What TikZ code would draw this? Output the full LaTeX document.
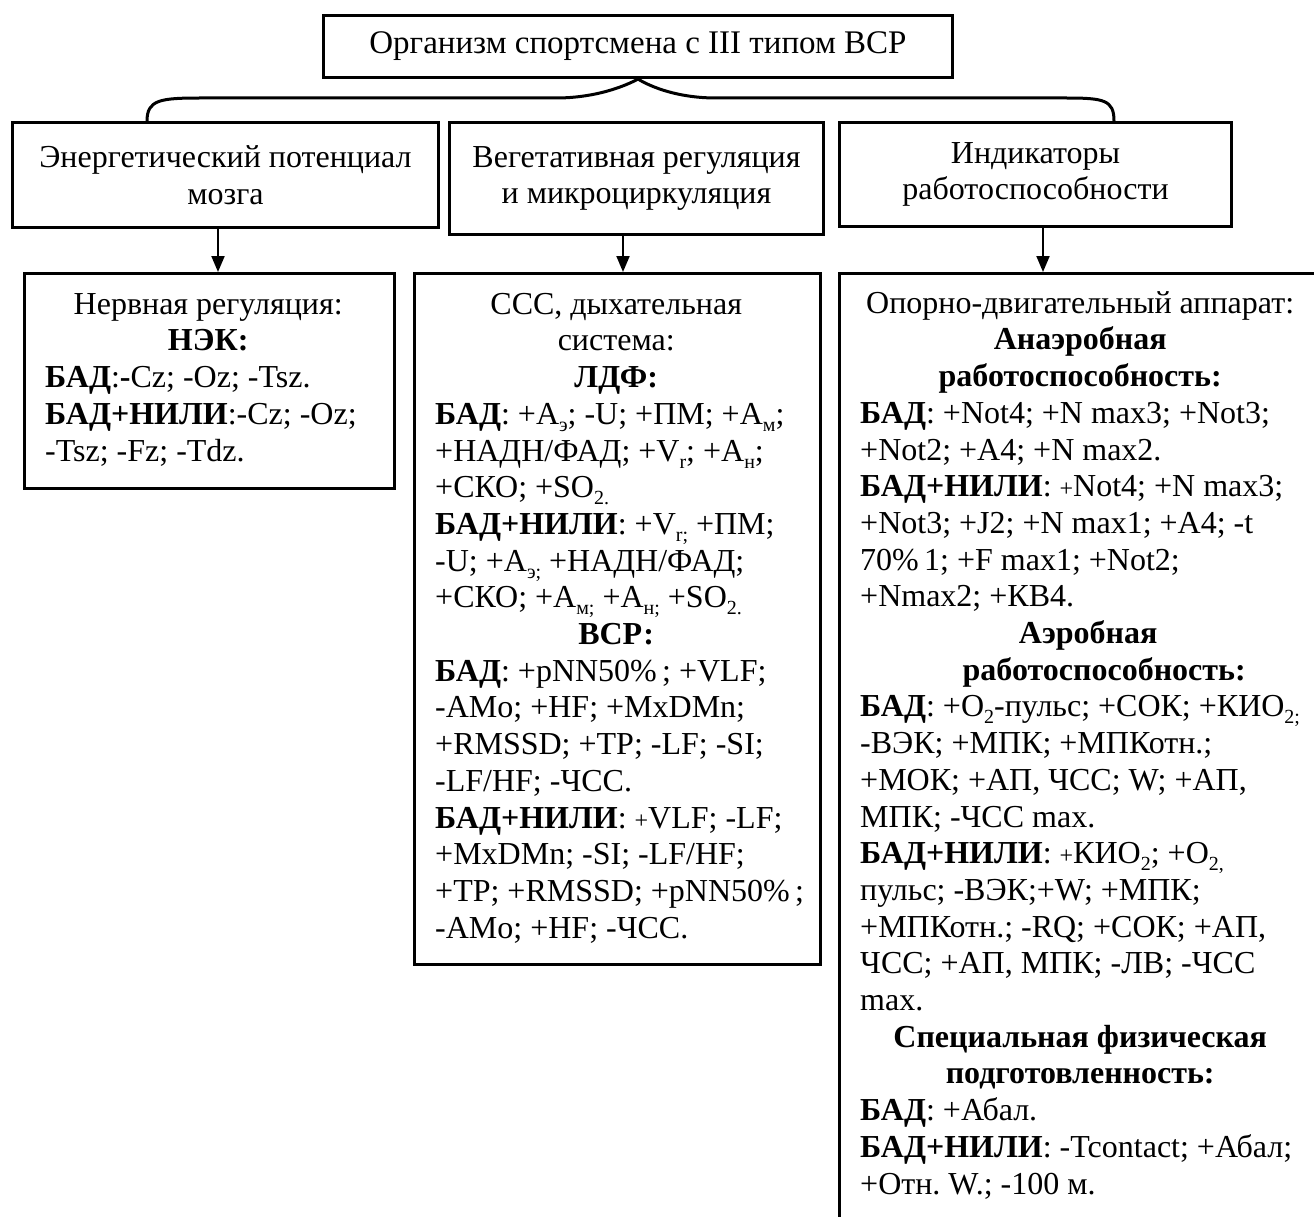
\documentclass[tikz,border=0pt]{standalone}
\usepackage{fontspec}
\setmainfont{Liberation Serif}
\usetikzlibrary{arrows.meta}

% small lowered index, small plus sign, centred line of given width
\newcommand\sbs[1]{\raisebox{-0.22em}{\fontsize{20}{20}\selectfont #1}}
\newcommand\splus{{\fontsize{24}{24}\selectfont +}}
\newcommand\ctr[2]{\makebox[#1][c]{#2}}
\newcommand\fl{\rule{0pt}{30pt}}
\frenchspacing

\begin{document}
\begin{tikzpicture}[x=1pt,y=-1pt,
  frame/.style={draw, line width=3pt, rectangle, anchor=north west, inner sep=0pt},
  head/.style={align=center, font=\fontsize{32}{36.7}\selectfont},
  txt/.style={anchor=north west, inner sep=0pt, align=left,
              font=\fontsize{32}{36.7}\selectfont},
  brace/.style={line width=3pt},
  arr/.style={line width=2pt, -{Triangle[length=16pt,width=13pt]}}]

\useasboundingbox (0,0) rectangle (1314,1217);
\clip (0,0) rectangle (1314,1217);

% top box
\node[frame, head, font=\fontsize{33}{36.7}\selectfont,
      minimum width=629pt, minimum height=62pt] (top) at (322,14)
  {Организм спортсмена с III типом ВСР};

% second row
\node[frame, head, minimum width=426pt, minimum height=105pt] (u1) at (11,121)
  {Энергетический потенциал\\мозга};
\node[frame, head, minimum width=374pt, minimum height=112pt] (u2) at (448,121)
  {Вегетативная регуляция\\и микроциркуляция};
\node[frame, head, minimum width=392pt, minimum height=104pt] (u3) at (838,121)
  {Индикаторы\\работоспособности};

% curly brace joining the top box with the second row
\coordinate (bL) at (147,121);
\coordinate (bR) at (1114,121);
\draw[brace] (u1.north -| bL) .. controls (147,100) and (160,98) .. (200,98)
  -- (556,98) .. controls (606,98) and (top.south) .. (top.south);
\draw[brace] (top.south) .. controls (top.south) and (666,98) .. (716,98)
  -- (1066,98) .. controls (1104,98) and (1114,100) .. (u3.north -| bR);

% third row frames
\node[frame, minimum width=370pt, minimum height=215pt] (l1) at (23,272) {};
\node[frame, minimum width=406pt, minimum height=691pt] (l2) at (413,272) {};
\node[frame, minimum width=500pt, minimum height=990pt] (l3) at (838,272) {};

% arrows
\coordinate (a1) at (218,0);
\coordinate (a2) at (623,0);
\coordinate (a3) at (1043,0);
\draw[arr] (u1.south -| a1) -- (l1.north -| a1);
\draw[arr] (u2.south -| a2) -- (l2.north -| a2);
\draw[arr] (u3.south -| a3) -- (l3.north -| a3);

% texts of the third row
\node[txt] (t1) at (45,284) {%
\fl\ctr{326pt}{Нервная регуляция:}\\
\ctr{326pt}{\textbf{НЭК:}}\\
\textbf{БАД}:\textbf{-}Cz; -Oz; -Tsz.\\
\textbf{БАД+НИЛИ}:-Cz; -Oz;\\
-Tsz; -Fz; -Tdz.};

\node[txt] (t2) at (435,284) {%
\fl\ctr{362pt}{ССС, дыхательная}\\
\ctr{362pt}{система:}\\
\ctr{362pt}{\textbf{ЛДФ:}}\\
\textbf{БАД}: +A\sbs{э}; -U; +ПМ; +A\sbs{м};\\
+НАДН/ФАД; +V\sbs{r}; +A\sbs{н};\\
+СКО; +SO\sbs{2.}\\
\textbf{БАД+НИЛИ}: +V\sbs{r;} +ПМ;\\
-U; +A\sbs{э;} +НАДН/ФАД;\\
+СКО; +A\sbs{м;} +A\sbs{н;} +SO\sbs{2.}\\
\ctr{362pt}{\textbf{ВСР:}}\\
\textbf{БАД}: +pNN50\%\,; +VLF;\\
-AMo; +HF; +MxDMn;\\
+RMSSD; +TP; -LF; -SI;\\
-LF/HF; -ЧСС.\\
\textbf{БАД+НИЛИ}: \splus VLF; -LF;\\
+MxDMn; -SI; -LF/HF;\\
+TP; +RMSSD; +pNN50\%\,;\\
-AMo; +HF; -ЧСС.};

\node[txt] (t3) at (860,283) {%
\fl\ctr{440pt}{Опорно-двигательный аппарат:}\\
\ctr{440pt}{\textbf{Анаэробная}}\\
\ctr{440pt}{\textbf{работоспособность:}}\\
\textbf{БАД}: +Not4; +N max3; +Not3;\\
+Not2; +A4; +N max2.\\
\textbf{БАД+НИЛИ}: \splus Not4; +N max3;\\
+Not3; +J2; +N max1; +A4; -t\\
70\%\,1; +F max1; +Not2;\\
+Nmax2; +КВ4.\\
\ctr{440pt}{\hspace*{16pt}\textbf{Аэробная}}\\
\ctr{440pt}{\hspace*{48pt}\textbf{работоспособность:}}\\
\textbf{БАД}: +O\sbs{2}-пульс; +СОК; +КИО\sbs{2;}\\
-ВЭК; +МПК; +МПКотн.;\\
+МОК; +АП, ЧСС; W; +АП,\\
МПК; -ЧСС max.\\
\textbf{БАД+НИЛИ}: \splus КИО\sbs{2}; +O\sbs{2,}\\
пульс; -ВЭК;+W; +МПК;\\
+МПКотн.; -RQ; +СОК; +АП,\\
ЧСС; +АП, МПК; -ЛВ; -ЧСС\\
max.\\
\ctr{440pt}{\textbf{Специальная физическая}}\\
\ctr{440pt}{\textbf{подготовленность:}}\\
\textbf{БАД}: +Абал.\\
\textbf{БАД+НИЛИ}: -Tcontact; +Абал;\\
+Отн. W.; -100 м.};

\end{tikzpicture}
\end{document}
